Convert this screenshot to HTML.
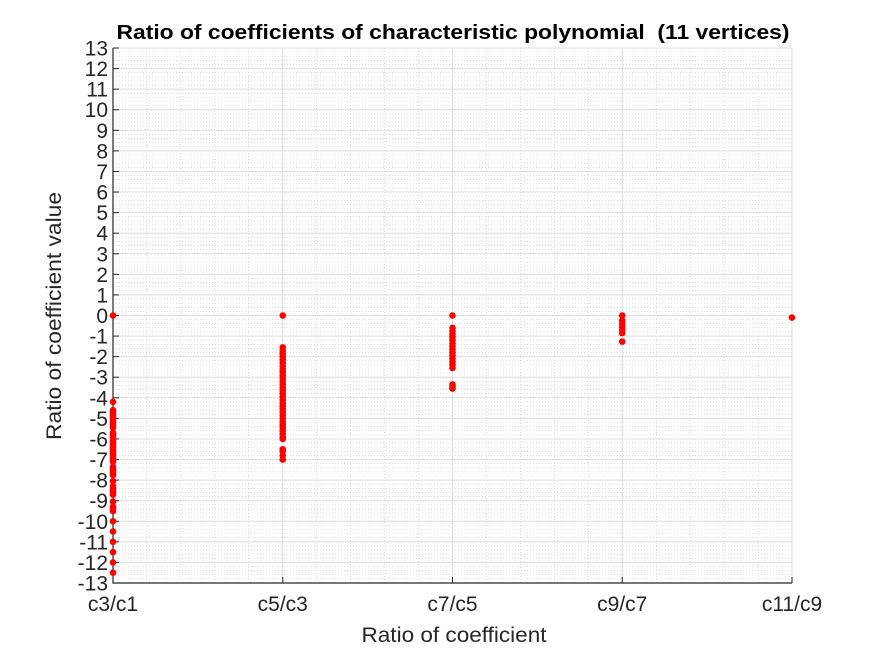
<!DOCTYPE html>
<html><head><meta charset="utf-8"><style>
html,body{margin:0;padding:0;background:#fff;}
svg{display:block;font-family:"Liberation Sans",sans-serif;}
</style></head><body>
<svg id="chart" width="875" height="656" viewBox="0 0 875 656" xmlns="http://www.w3.org/2000/svg">
<rect width="875" height="656" fill="#fff"/>
<text x="453" y="39" text-anchor="middle" font-weight="bold" font-size="20" fill="#000" textLength="673" lengthAdjust="spacingAndGlyphs" xml:space="preserve">Ratio of coefficients of characteristic polynomial  (11 vertices)</text>
<g id="grid"></g><g id="axes"></g><g id="points"></g>
<text x="454" y="642" text-anchor="middle" font-size="21" fill="#262626" textLength="185" lengthAdjust="spacingAndGlyphs">Ratio of coefficient</text>
<text transform="translate(61,316) rotate(-90)" text-anchor="middle" font-size="21" fill="#262626" textLength="248" lengthAdjust="spacingAndGlyphs">Ratio of coefficient value</text>
</svg>
<script>
const categories = ["c3/c1","c5/c3","c7/c5","c9/c7","c11/c9"];
const yTicks = [-13,-12,-11,-10,-9,-8,-7,-6,-5,-4,-3,-2,-1,0,1,2,3,4,5,6,7,8,9,10,11,12,13];
const seriesC3C1 = [0,-4.2,-4.6,-4.7,-4.8,-4.9,-5.0,-5.1,-5.2,-5.3,-5.45,-5.7,-5.8,-5.9,-6.0,-6.1,-6.2,-6.3,-6.4,-6.5,-6.6,-6.7,-6.8,-6.9,-7.0,-7.1,-7.35,-7.45,-7.55,-7.65,-7.75,-8.05,-8.3,-8.4,-8.5,-8.6,-8.7,-9.05,-9.3,-9.4,-9.5,-10.0,-10.5,-11.0,-11.5,-12.0,-12.5];
const seriesC5C3 = [0,-1.55,-1.7,-1.85,-2.0,-2.15,-2.3,-2.45,-2.6,-2.75,-2.9,-3.05,-3.2,-3.35,-3.5,-3.65,-3.8,-3.95,-4.1,-4.25,-4.4,-4.55,-4.7,-4.85,-5.0,-5.15,-5.3,-5.45,-5.6,-5.75,-5.9,-6.0,-6.5,-6.6,-6.8,-7.0];
const seriesC7C5 = [0,-0.6,-0.75,-0.9,-1.05,-1.2,-1.35,-1.5,-1.65,-1.8,-1.95,-2.1,-2.25,-2.4,-2.55,-3.35,-3.45,-3.55];
const seriesC9C7 = [0,-0.25,-0.4,-0.55,-0.7,-0.85,-1.27];
const seriesC11C9 = [-0.1];
const allSeries = [seriesC3C1,seriesC5C3,seriesC7C5,seriesC9C7,seriesC11C9];

const L=113,R=792,T=48,B=583, yMin=-13,yMax=13;
const xs = i => L + i*(R-L)/(categories.length-1);
const ys = v => B - (v-yMin)*(B-T)/(yMax-yMin);
const NS="http://www.w3.org/2000/svg";
function mk(tag,attrs,parent){const e=document.createElementNS(NS,tag);for(const k in attrs)e.setAttribute(k,attrs[k]);parent.appendChild(e);return e;}
const grid=document.getElementById('grid'), axes=document.getElementById('axes'), pts=document.getElementById('points');

for(let i=0;i<categories.length-1;i++){for(let j=1;j<5;j++){const x=xs(i+j/5);
 const l=mk('line',{x1:x,x2:x,y1:T,y2:B,stroke:'#c8c8c8','stroke-width':0.6,'stroke-dasharray':'1,2'},grid);
 
 }}
for(let v=yMin;v<yMax-0.01;v+=1){for(let j=1;j<5;j++){const y=ys(v+j/5);
 const l=mk('line',{x1:L,x2:R,y1:y,y2:y,stroke:'#c8c8c8','stroke-width':0.6,'stroke-dasharray':'1,2'},grid);
 
 }}
categories.forEach((c,i)=>{const x=xs(i);
 const l=mk('line',{x1:x,x2:x,y1:T,y2:B,stroke:'#dcdcdc','stroke-width':1},grid);
 
 
 const t=mk('line',{x1:x,x2:x,y1:B,y2:B-6,stroke:'#262626','stroke-width':1},axes);
 
 
 const tx=mk('text',{x:x,y:B+28,'text-anchor':'middle','font-size':21,fill:'#262626'},axes);
 tx.textContent=c;
 
 });
yTicks.forEach(v=>{const y=ys(v);
 const l=mk('line',{x1:L,x2:R,y1:y,y2:y,stroke:'#dcdcdc','stroke-width':1},grid);
 
 
 const t=mk('line',{x1:L,x2:L+6,y1:y,y2:y,stroke:'#262626','stroke-width':1},axes);
 
 
 const tx=mk('text',{x:L-5,y:y+7.5,'text-anchor':'end','font-size':21,fill:'#262626'},axes);
 tx.textContent=String(v);
 
 });
const ax=mk('path',{d:`M${L},${T}V${B}H${R}`,fill:'none',stroke:'#262626','stroke-width':1.2},axes);


allSeries.forEach((s,i)=>{s.forEach(v=>{
 const c=mk('circle',{cx:xs(i),cy:ys(v),r:3.3,fill:'#f00'},pts);
 
 });});
</script>
</body></html>
